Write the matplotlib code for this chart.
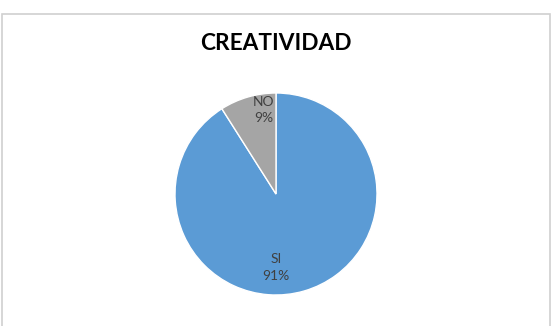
import matplotlib
matplotlib.use("Agg")
import matplotlib.pyplot as plt
from matplotlib.patches import Rectangle

categories = ["SI", "NO"]
values = [91, 9]
colors = ["#5B9BD5", "#A5A5A5"]
title = "CREATIVIDAD"

W, H = 555, 326
fig = plt.figure(figsize=(W / 100, H / 100), dpi=100)
fig.patch.set_facecolor("white")

# chart border
fig.patches.append(Rectangle((1.5 / W, -0.05), 548 / W, 1 - 13.5 / H + 0.05,
                             transform=fig.transFigure, fill=False,
                             edgecolor="#D0D0D0", linewidth=1.2))

cx, cy, r = 276, 194, 101
ax = fig.add_axes([(cx - r) / W, (H - cy - r) / H, 2 * r / W, 2 * r / H])
wedges, _ = ax.pie(values, colors=colors, startangle=90, counterclock=False,
                   radius=1, wedgeprops=dict(edgecolor="white", linewidth=1.0))
ax.set_xlim(-1, 1)
ax.set_ylim(-1, 1)
ax.set_aspect("auto")
ax.axis("off")

label_pos = {"SI": (0.0, -0.73), "NO": (-0.12, 0.83)}
for cat, v in zip(categories, values):
    x, y = label_pos[cat]
    ax.text(x, y, f"{cat}\n{v}%", ha="center", va="center", fontsize=10,
            color="#404040", family="Lato", linespacing=1.45)

fig.text(276 / W, 1 - 44 / H, title, ha="center", va="center",
         fontsize=16.3, fontweight="bold", family="Lato", color="black")

fig.savefig("out.png", dpi=100, facecolor="white")
